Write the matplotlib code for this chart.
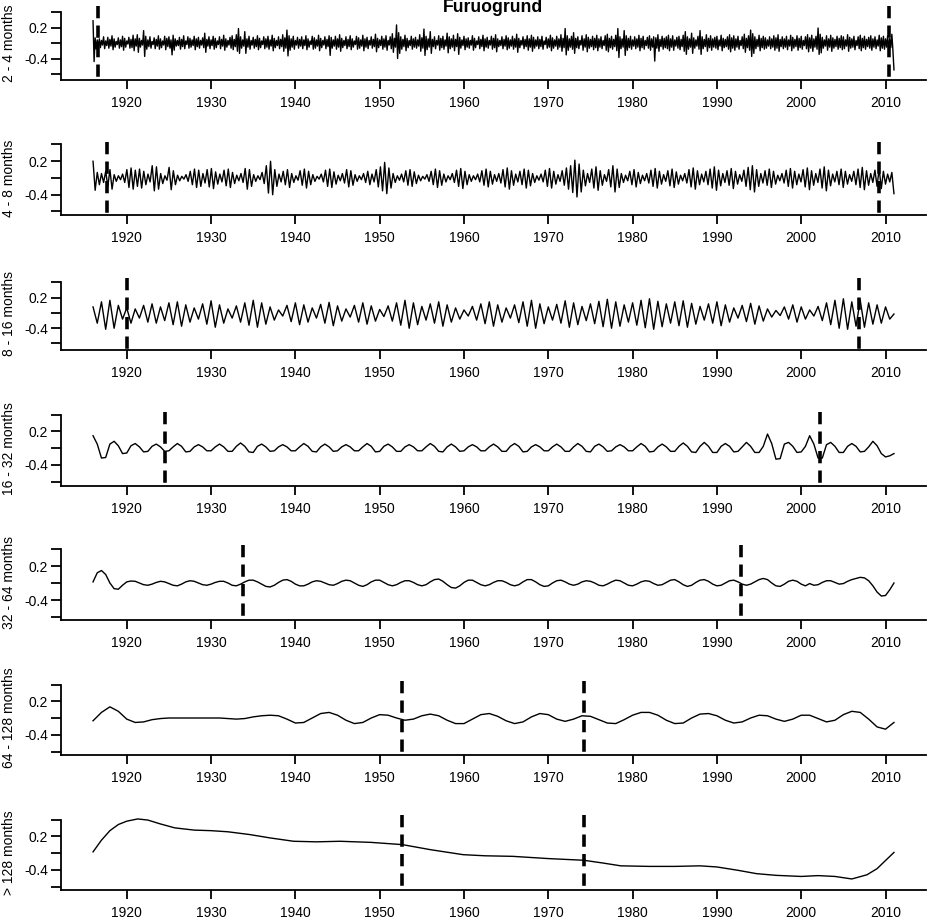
import numpy as np
import matplotlib
matplotlib.use('Agg')
import matplotlib.pyplot as plt

plt.rcParams['font.family'] = ['Liberation Sans', 'DejaVu Sans']

# componentes de la descomposicion
labels = ["2 - 4 months", "4 - 8 months", "8 - 16 months", "16 - 32 months",
          "32 - 64 months", "64 - 128 months", "> 128 months"]

# 2 - 4 meses, 8 valores por anio (1916 - 2011)
p1 = [0.33,-0.46,0.0,-0.22,-0.04,-0.17,-0.02,-0.19,
      -0.05,-0.14,0.02,-0.21,-0.06,-0.15,0.01,-0.2,
      -0.03,-0.16,0.04,-0.23,-0.02,-0.18,-0.07,-0.13,
      0.0,-0.2,-0.04,-0.17,0.03,-0.24,-0.01,-0.18,
      -0.06,-0.12,0.01,-0.2,-0.03,-0.19,0.05,-0.25,
      -0.02,-0.16,0.06,-0.28,-0.01,-0.18,-0.05,-0.14,
      0.14,-0.36,0.03,-0.22,-0.04,-0.17,0.02,-0.2,
      -0.07,-0.13,0.0,-0.21,-0.03,-0.16,0.04,-0.22,
      -0.02,-0.19,-0.06,-0.14,0.03,-0.23,-0.01,-0.17,
      0.02,-0.2,-0.04,-0.33,0.05,-0.24,-0.02,-0.16,
      -0.05,-0.15,0.01,-0.22,-0.03,-0.17,0.04,-0.21,
      -0.06,-0.13,0.02,-0.2,-0.01,-0.18,-0.04,-0.15,
      0.03,-0.23,-0.02,-0.17,0.01,-0.2,-0.05,-0.14,
      0.0,-0.19,0.09,-0.28,-0.03,-0.16,0.02,-0.21,
      -0.04,-0.15,0.03,-0.22,-0.01,-0.19,-0.06,-0.13,
      0.02,-0.21,-0.03,-0.16,0.05,-0.24,-0.02,-0.18,
      -0.05,-0.14,0.01,-0.2,0.04,-0.23,-0.03,-0.17,
      0.06,-0.26,0.18,-0.3,0.02,-0.2,-0.04,-0.16,
      0.12,-0.3,-0.02,-0.18,0.03,-0.22,-0.05,-0.14,
      0.01,-0.2,-0.03,-0.17,0.04,-0.23,-0.01,-0.19,
      -0.06,-0.13,0.02,-0.21,-0.02,-0.18,0.03,-0.22,
      -0.04,-0.16,0.05,-0.25,-0.01,-0.19,-0.05,-0.15,
      0.02,-0.21,-0.03,-0.17,0.06,-0.26,0.0,-0.2,
      0.15,-0.35,0.04,-0.24,-0.02,-0.18,0.03,-0.22,
      -0.05,-0.14,0.01,-0.2,-0.03,-0.16,0.02,-0.21,
      -0.04,-0.15,0.04,-0.23,-0.02,-0.18,-0.06,-0.13,
      0.03,-0.22,0.0,-0.2,-0.04,-0.16,0.05,-0.25,
      -0.01,-0.19,-0.05,-0.14,0.02,-0.21,-0.03,-0.17,
      0.04,-0.34,0.01,-0.2,-0.04,-0.16,0.03,-0.22,
      -0.02,-0.18,0.06,-0.26,-0.01,-0.19,-0.05,-0.15,
      0.02,-0.21,-0.03,-0.17,0.04,-0.23,-0.02,-0.18,
      -0.06,-0.13,0.03,-0.22,0.0,-0.2,-0.04,-0.16,
      0.05,-0.25,-0.02,-0.18,0.01,-0.21,-0.05,-0.14,
      0.02,-0.2,-0.03,-0.17,0.07,-0.27,-0.01,-0.19,
      -0.04,-0.15,0.03,-0.22,-0.02,-0.18,0.04,-0.24,
      -0.05,-0.14,0.02,-0.21,0.08,-0.28,-0.01,-0.18,
      0.25,-0.4,0.1,-0.3,0.02,-0.22,-0.03,-0.17,
      0.05,-0.25,-0.01,-0.19,-0.05,-0.15,0.03,-0.22,
      -0.02,-0.18,0.01,-0.2,-0.04,-0.16,0.06,-0.26,
      0.0,-0.2,0.17,-0.34,0.03,-0.23,-0.02,-0.18,
      0.12,-0.3,-0.03,-0.17,0.02,-0.21,-0.05,-0.14,
      0.04,-0.24,-0.01,-0.19,0.03,-0.22,-0.04,-0.16,
      0.09,-0.29,0.02,-0.21,-0.02,-0.18,0.05,-0.25,
      -0.03,-0.17,0.08,-0.32,0.01,-0.2,-0.04,-0.15,
      0.03,-0.23,-0.02,-0.18,0.0,-0.2,-0.05,-0.14,
      0.04,-0.24,-0.01,-0.19,-0.06,-0.13,0.02,-0.21,
      -0.03,-0.17,0.05,-0.25,-0.02,-0.18,0.01,-0.2,
      -0.05,-0.14,0.03,-0.22,-0.01,-0.19,0.06,-0.27,
      -0.02,-0.17,-0.05,-0.15,0.02,-0.21,-0.03,-0.16,
      0.04,-0.23,0.0,-0.2,-0.04,-0.16,0.03,-0.22,
      -0.02,-0.18,0.07,-0.28,-0.01,-0.19,-0.05,-0.14,
      0.02,-0.21,-0.03,-0.17,0.04,-0.24,-0.02,-0.18,
      0.05,-0.26,0.01,-0.2,-0.04,-0.16,0.02,-0.21,
      -0.03,-0.17,0.03,-0.22,-0.06,-0.13,0.01,-0.2,
      -0.02,-0.18,0.05,-0.25,0.0,-0.2,-0.04,-0.16,
      0.03,-0.22,-0.02,-0.18,0.06,-0.26,-0.01,-0.19,
      0.18,-0.33,0.04,-0.24,-0.02,-0.18,0.03,-0.22,
      0.1,-0.3,-0.01,-0.19,0.02,-0.21,-0.05,-0.14,
      0.04,-0.24,-0.02,-0.18,0.06,-0.27,0.01,-0.2,
      -0.03,-0.17,0.03,-0.23,-0.01,-0.19,0.05,-0.25,
      -0.02,-0.18,0.02,-0.21,-0.05,-0.15,0.04,-0.24,
      0.07,-0.27,-0.01,-0.19,0.03,-0.22,-0.03,-0.17,
      0.05,-0.25,0.18,-0.38,0.02,-0.21,-0.02,-0.18,
      0.14,-0.34,0.04,-0.24,-0.01,-0.19,0.03,-0.22,
      -0.04,-0.16,0.02,-0.21,-0.02,-0.18,0.05,-0.25,
      -0.01,-0.19,0.03,-0.22,-0.05,-0.15,0.01,-0.2,
      0.04,-0.24,-0.02,-0.18,0.02,-0.45,0.0,-0.2,
      0.06,-0.26,-0.03,-0.17,0.03,-0.22,-0.01,-0.19,
      0.02,-0.21,0.05,-0.25,-0.02,-0.18,0.04,-0.24,
      -0.04,-0.16,0.01,-0.2,0.03,-0.23,-0.03,-0.17,
      0.05,-0.26,0.12,-0.32,0.02,-0.22,-0.02,-0.18,
      0.09,-0.3,0.0,-0.2,-0.04,-0.16,0.03,-0.22,
      0.14,-0.32,0.02,-0.21,-0.03,-0.17,0.06,-0.26,
      -0.01,-0.19,0.04,-0.24,-0.02,-0.18,0.01,-0.2,
      0.03,-0.23,-0.04,-0.16,0.05,-0.25,-0.01,-0.19,
      -0.03,-0.17,0.02,-0.22,0.06,-0.27,0.0,-0.2,
      0.04,-0.24,-0.02,-0.18,0.03,-0.22,-0.05,-0.15,
      0.02,-0.21,0.07,-0.28,-0.01,-0.19,0.04,-0.24,
      0.15,-0.36,0.08,-0.3,0.02,-0.21,-0.03,-0.17,
      0.05,-0.25,-0.01,-0.19,0.03,-0.22,0.0,-0.2,
      -0.04,-0.16,0.02,-0.21,-0.02,-0.18,0.04,-0.24,
      0.0,-0.2,0.06,-0.26,-0.03,-0.17,0.02,-0.21,
      -0.02,-0.18,0.03,-0.23,-0.04,-0.16,0.05,-0.25,
      0.01,-0.2,-0.03,-0.17,0.04,-0.24,-0.01,-0.19,
      0.03,-0.22,-0.05,-0.15,0.02,-0.21,0.06,-0.27,
      0.0,-0.2,0.05,-0.26,-0.02,-0.18,0.03,-0.22,
      0.19,-0.32,0.07,-0.29,0.01,-0.2,-0.04,-0.16,
      0.04,-0.24,-0.02,-0.18,0.05,-0.26,0.0,-0.2,
      -0.03,-0.17,0.03,-0.22,-0.01,-0.19,0.04,-0.23,
      0.02,-0.21,-0.04,-0.16,0.06,-0.26,0.01,-0.2,
      -0.02,-0.18,0.03,-0.23,-0.05,-0.15,0.02,-0.21,
      0.05,-0.25,-0.01,-0.19,0.03,-0.22,-0.03,-0.17,
      0.01,-0.2,0.04,-0.24,-0.02,-0.18,0.02,-0.21,
      -0.04,-0.16,0.05,-0.25,0.0,-0.2,0.03,-0.22,
      -0.02,-0.18,0.04,-0.23,-0.01,-0.19,0.07,-0.24,
      -0.62]

# 4 - 8 meses, cada 0.25 anios
p2 = [0.2,-0.32,0.0,-0.22,-0.02,-0.18,0.02,-0.25,0.05,-0.3,-0.04,-0.16,-0.06,-0.13,-0.03,-0.18,0.05,-0.27,0.08,-0.3,
      0.04,-0.25,0.06,-0.28,0.02,-0.22,-0.03,-0.17,0.12,-0.33,0.1,-0.3,-0.02,-0.2,-0.06,-0.14,0.09,-0.31,0.03,-0.22,
      -0.05,-0.15,-0.07,-0.12,-0.04,-0.16,0.02,-0.22,0.06,-0.27,0.04,-0.25,-0.02,-0.19,0.05,-0.26,0.07,-0.29,0.01,-0.21,
      -0.03,-0.17,0.04,-0.24,0.06,-0.27,0.0,-0.2,-0.05,-0.15,-0.02,-0.18,0.07,-0.3,0.05,-0.25,-0.04,-0.16,-0.06,-0.13,
      0.0,-0.2,0.12,-0.37,0.2,-0.4,0.05,-0.25,-0.03,-0.17,0.02,-0.22,0.05,-0.27,-0.02,-0.18,-0.06,-0.14,0.03,-0.23,
      0.06,-0.28,0.02,-0.22,-0.04,-0.16,-0.07,-0.12,-0.03,-0.17,0.04,-0.25,0.06,-0.27,0.01,-0.21,-0.05,-0.15,-0.02,-0.19,
      0.05,-0.26,0.03,-0.23,-0.04,-0.16,-0.06,-0.13,-0.02,-0.18,0.02,-0.22,-0.03,-0.17,0.05,-0.26,0.1,-0.33,0.18,-0.38,
      0.08,-0.28,-0.02,-0.18,-0.06,-0.14,-0.03,-0.17,0.03,-0.23,0.05,-0.25,0.01,-0.2,-0.05,-0.15,-0.07,-0.12,-0.04,-0.16,
      0.02,-0.22,0.06,-0.27,0.03,-0.23,-0.03,-0.17,-0.06,-0.13,-0.02,-0.18,0.04,-0.25,0.07,-0.29,0.02,-0.22,-0.04,-0.16,
      -0.06,-0.13,-0.03,-0.17,0.03,-0.23,0.06,-0.26,0.02,-0.21,-0.04,-0.16,-0.02,-0.19,0.05,-0.26,0.08,-0.3,0.03,-0.23,
      -0.03,-0.17,0.02,-0.22,0.06,-0.28,0.04,-0.24,-0.02,-0.18,-0.06,-0.14,-0.03,-0.17,0.04,-0.25,0.07,-0.28,0.02,-0.21,
      -0.04,-0.16,0.03,-0.23,0.08,-0.3,0.12,-0.36,0.22,-0.44,0.15,-0.35,0.04,-0.24,-0.02,-0.18,0.06,-0.28,0.1,-0.32,
      0.03,-0.23,-0.04,-0.16,0.05,-0.26,0.12,-0.35,0.06,-0.27,-0.02,-0.18,-0.05,-0.15,0.02,-0.22,0.05,-0.26,0.0,-0.2,
      -0.05,-0.15,-0.02,-0.19,0.04,-0.25,0.07,-0.28,0.02,-0.21,-0.04,-0.16,0.03,-0.24,0.06,-0.27,0.01,-0.21,-0.05,-0.15,
      -0.02,-0.19,0.05,-0.26,0.08,-0.3,0.03,-0.22,-0.03,-0.17,0.02,-0.22,0.06,-0.28,0.1,-0.32,0.04,-0.24,-0.02,-0.18,
      0.03,-0.23,0.07,-0.29,0.02,-0.21,-0.04,-0.16,0.04,-0.25,0.09,-0.31,0.12,-0.35,0.05,-0.25,-0.02,-0.19,0.03,-0.23,
      0.06,-0.27,0.02,-0.21,-0.05,-0.15,-0.02,-0.19,0.04,-0.25,0.07,-0.28,0.02,-0.22,-0.03,-0.17,0.05,-0.26,0.08,-0.31,
      0.03,-0.23,-0.02,-0.18,0.06,-0.28,0.1,-0.33,0.04,-0.24,-0.03,-0.17,0.02,-0.22,0.06,-0.27,0.02,-0.21,-0.04,-0.16,
      0.02,-0.22,0.06,-0.27,0.09,-0.31,0.03,-0.23,-0.02,-0.18,0.04,-0.25,0.07,-0.29,0.02,-0.21,-0.03,-0.17,0.0,-0.38]

# 8 - 16 meses, cada 0.5 anios
p3 = [0.02,-0.3,0.12,-0.42,0.15,-0.4,0.05,-0.22,0.0,-0.3,
      -0.02,-0.2,0.05,-0.28,0.08,-0.3,0.02,-0.25,0.1,-0.33,
      0.12,-0.36,0.06,-0.28,0.0,-0.22,0.08,-0.32,0.14,-0.38,
      0.06,-0.3,-0.02,-0.2,0.04,-0.28,0.1,-0.34,0.15,-0.38,
      0.1,-0.32,0.02,-0.24,-0.04,-0.16,0.05,-0.27,0.1,-0.33,
      0.06,-0.28,0.0,-0.2,0.07,-0.3,0.11,-0.35,0.04,-0.26,
      -0.02,-0.18,0.05,-0.28,0.1,-0.32,0.04,-0.26,-0.03,-0.17,
      0.04,-0.26,0.1,-0.34,0.15,-0.4,0.1,-0.33,0.03,-0.24,
      0.08,-0.3,0.12,-0.36,0.06,-0.28,0.0,-0.22,-0.04,-0.16,
      0.03,-0.24,0.08,-0.31,0.12,-0.36,0.06,-0.28,0.0,-0.2,
      0.06,-0.29,0.12,-0.36,0.15,-0.4,0.08,-0.31,0.02,-0.24,
      0.07,-0.3,0.14,-0.38,0.1,-0.33,0.03,-0.25,0.08,-0.31,
      0.13,-0.37,0.17,-0.4,0.12,-0.36,0.06,-0.28,0.1,-0.34,
      0.15,-0.39,0.18,-0.42,0.13,-0.37,0.08,-0.3,0.12,-0.35,
      0.14,-0.38,0.09,-0.32,0.03,-0.24,0.08,-0.3,0.12,-0.35,
      0.06,-0.28,0.0,-0.2,0.05,-0.27,0.09,-0.32,0.04,-0.26,
      -0.02,-0.18,-0.05,-0.15,0.02,-0.22,0.06,-0.28,0.02,-0.22,
      -0.04,-0.16,0.03,-0.25,0.1,-0.33,0.15,-0.4,0.18,-0.42,
      0.12,-0.36,0.15,-0.38,0.1,-0.32,0.06,-0.3,0.02,-0.22,
      -0.12]

# 16 - 32 meses, cada 0.5 anios
p4 = [0.12,-0.03,-0.28,-0.27,-0.03,  0.02,-0.06,-0.2,-0.19,-0.06,
      -0.02,-0.08,-0.17,-0.16,-0.07,  -0.03,-0.08,-0.16,-0.15,-0.08,
      -0.02,-0.07,-0.17,-0.16,-0.08,  -0.04,-0.08,-0.15,-0.15,-0.08,
      -0.03,-0.08,-0.16,-0.16,-0.07,  -0.01,-0.07,-0.17,-0.18,-0.07,
      -0.03,-0.08,-0.16,-0.15,-0.08,  -0.04,-0.08,-0.15,-0.15,-0.08,
      -0.02,-0.07,-0.16,-0.17,-0.08,  -0.03,-0.08,-0.16,-0.15,-0.08,
      -0.04,-0.08,-0.15,-0.15,-0.08,  -0.02,-0.07,-0.17,-0.16,-0.07,
      -0.03,-0.08,-0.16,-0.16,-0.08,  -0.04,-0.08,-0.15,-0.15,-0.08,
      -0.02,-0.07,-0.16,-0.17,-0.08,  -0.03,-0.08,-0.16,-0.15,-0.08,
      -0.04,-0.08,-0.15,-0.15,-0.08,  -0.03,-0.08,-0.16,-0.16,-0.07,
      -0.02,-0.07,-0.17,-0.16,-0.08,  -0.04,-0.08,-0.15,-0.15,-0.08,
      -0.03,-0.08,-0.16,-0.16,-0.08,  -0.02,-0.07,-0.16,-0.17,-0.07,
      -0.03,-0.08,-0.16,-0.15,-0.08,  -0.04,-0.08,-0.15,-0.15,-0.08,
      -0.02,-0.07,-0.17,-0.16,-0.08,  -0.03,-0.08,-0.16,-0.16,-0.07,
      -0.01,-0.07,-0.17,-0.18,-0.07,  0.0,-0.07,-0.18,-0.18,-0.07,
      -0.02,-0.07,-0.17,-0.16,-0.08,  0.0,-0.07,-0.18,-0.18,-0.07,
      0.15,-0.02,-0.3,-0.29,-0.03,  0.0,-0.07,-0.18,-0.17,-0.07,
      0.12,-0.03,-0.28,-0.28,-0.04,  0.0,-0.07,-0.18,-0.18,-0.07,
      -0.02,-0.07,-0.17,-0.16,-0.08,  0.02,-0.06,-0.2,-0.26,-0.24,
      -0.2]

# 32 - 64 meses, cada 0.5 anios
p5 = [-0.08,0.08,0.12,0.05,-0.1,-0.2,-0.21,-0.14,-0.08,-0.065,
      -0.07,-0.1,-0.13,-0.14,-0.12,-0.09,-0.07,-0.08,-0.11,-0.14,
      -0.15,-0.12,-0.08,-0.06,-0.07,-0.1,-0.13,-0.14,-0.12,-0.09,
      -0.07,-0.07,-0.1,-0.14,-0.15,-0.12,-0.08,-0.05,-0.05,-0.08,
      -0.12,-0.16,-0.17,-0.14,-0.09,-0.05,-0.04,-0.07,-0.12,-0.15,
      -0.15,-0.12,-0.08,-0.06,-0.07,-0.1,-0.13,-0.14,-0.11,-0.07,
      -0.05,-0.06,-0.1,-0.14,-0.16,-0.13,-0.08,-0.05,-0.05,-0.09,
      -0.13,-0.15,-0.13,-0.09,-0.06,-0.06,-0.09,-0.13,-0.15,-0.13,
      -0.08,-0.04,-0.03,-0.07,-0.13,-0.18,-0.19,-0.15,-0.09,-0.05,
      -0.05,-0.09,-0.13,-0.15,-0.13,-0.09,-0.06,-0.06,-0.09,-0.13,
      -0.15,-0.13,-0.08,-0.04,-0.04,-0.08,-0.13,-0.16,-0.15,-0.1,
      -0.06,-0.05,-0.08,-0.12,-0.14,-0.12,-0.08,-0.06,-0.07,-0.1,
      -0.14,-0.15,-0.12,-0.08,-0.05,-0.06,-0.1,-0.14,-0.15,-0.12,
      -0.08,-0.06,-0.07,-0.11,-0.14,-0.13,-0.09,-0.05,-0.04,-0.08,
      -0.13,-0.16,-0.14,-0.09,-0.05,-0.04,-0.07,-0.12,-0.15,-0.14,
      -0.1,-0.06,-0.05,-0.08,-0.12,-0.14,-0.12,-0.08,-0.04,-0.02,
      -0.04,-0.1,-0.15,-0.16,-0.12,-0.07,-0.05,-0.07,-0.12,-0.15,
      -0.11,-0.14,-0.13,-0.09,-0.06,-0.06,-0.09,-0.12,-0.11,-0.07,
      -0.04,-0.02,0.0,-0.01,-0.06,-0.15,-0.26,-0.33,-0.32,-0.22,
      -0.1]

# 64 - 128 meses, cada anio
p6 = [-0.15,0.0,0.1,0.02,-0.12,-0.18,-0.17,-0.13,-0.11,-0.1,
      -0.1,-0.1,-0.1,-0.1,-0.1,-0.1,-0.11,-0.12,-0.11,-0.08,
      -0.06,-0.05,-0.06,-0.12,-0.19,-0.18,-0.1,-0.02,0.0,-0.05,
      -0.14,-0.2,-0.18,-0.1,-0.04,-0.05,-0.1,-0.14,-0.12,-0.06,
      -0.03,-0.06,-0.14,-0.2,-0.2,-0.12,-0.04,-0.02,-0.07,-0.15,
      -0.2,-0.17,-0.08,-0.02,-0.04,-0.12,-0.16,-0.12,-0.06,-0.07,
      -0.13,-0.19,-0.2,-0.13,-0.05,0.0,0.0,-0.05,-0.14,-0.2,
      -0.19,-0.1,-0.03,-0.02,-0.06,-0.14,-0.19,-0.17,-0.1,-0.05,
      -0.06,-0.12,-0.16,-0.12,-0.05,-0.05,-0.11,-0.17,-0.14,-0.04,
      0.02,0.0,-0.12,-0.26,-0.3,-0.18]

# > 128 meses, anios y valores leidos
t7 = [1916.0,1917.0,1918.0,1919.0,1920.0,1921.3,1922.5,1924.0,1925.7,1928.0,1930.0,
      1932.0,1934.6,1937.0,1939.8,1942.5,1945.3,1949.0,1952.7,1956.0,1959.9,1962.5,
      1965.8,1970.0,1974.2,1976.5,1978.6,1982.0,1985.0,1988.0,1990.0,1992.5,1994.7,
      1997.0,2000.0,2002.0,2004.0,2006.0,2007.8,2009.0,2010.1,2011.0]
p7 = [-0.08,0.13,0.3,0.41,0.47,0.51,0.49,0.42,0.35,0.31,0.3,
      0.28,0.23,0.17,0.11,0.1,0.11,0.09,0.05,-0.04,-0.13,-0.15,
      -0.16,-0.2,-0.23,-0.28,-0.33,-0.34,-0.34,-0.33,-0.35,-0.41,-0.47,
      -0.5,-0.52,-0.505,-0.52,-0.565,-0.49,-0.38,-0.22,-0.09]

series = [p1, p2, p3, p4, p5, p6, p7]

# lineas verticales (limites del cono de influencia)
vlines = [(1916.55, 2010.4), (1917.7, 2009.2), (1920.0, 2006.9), (1924.55, 2002.2),
          (1933.8, 1992.9), (1952.7, 1974.2), (1952.7, 1974.2)]

# posicion de cada panel en pixeles (base, tope) y escala vertical
W, H = 927, 918
bot_px = [80, 215, 350, 486, 620, 755, 890]
top_px = [6, 142, 278, 412, 545, 681, 815]
mid_px = [43, 178, 313, 448, 583, 718, 853]
paso_px = [15.5, 16.75, 15.25, 16.75, 17.0, 16.75, 16.75]
left_px, right_px = 61, 926

fig = plt.figure(figsize=(W/100, H/100), dpi=100)

for i in range(7):
    b, t = bot_px[i], top_px[i]
    ax = fig.add_axes([left_px/W, 1 - b/H, (right_px-left_px)/W, (b-t)/H])
    y = series[i]
    if i == 6:
        x = t7
    else:
        x = np.linspace(1916.0, 2011.0, len(y))
    ax.plot(x, y, c='k', lw=1.0)

    k = 0.3/paso_px[i]
    ymin = -0.1 - (b - mid_px[i])*k
    ymax = -0.1 + (mid_px[i] - t)*k
    ax.set_ylim(ymin, ymax)
    ax.set_xlim(1912.2, 2014.8)

    for xv in vlines[i]:
        ax.plot([xv, xv], [ymax, ymin], c='k', lw=2.6, ls=(0, (3.4, 2.0)),
                solid_capstyle='butt', dash_capstyle='butt')

    ax.spines['top'].set_visible(False)
    ax.spines['right'].set_visible(False)
    ax.spines['left'].set_bounds(ymin, 0.5)
    ax.spines['left'].set_linewidth(1.3)
    ax.spines['bottom'].set_linewidth(1.3)

    ax.set_yticks([0.5, 0.2, -0.1, -0.4, -0.7])
    ax.set_yticklabels(['', '0.2', '', '-0.4', ''])
    ax.set_xticks(np.arange(1920, 2011, 10))
    ax.tick_params(axis='y', length=7, width=1.3, pad=2.5, labelsize=10)
    ax.tick_params(axis='x', length=6.5, width=1.3, pad=4.8, labelsize=10)

    fig.text(9/W, 1 - (b+t)/2/H, labels[i], rotation=90, ha='center', va='center', fontsize=10)

fig.text(493/W, 1 - 8/H, 'Furuogrund', ha='center', va='center', fontsize=12.7, fontweight='bold')

plt.savefig('out.png', dpi=100)
